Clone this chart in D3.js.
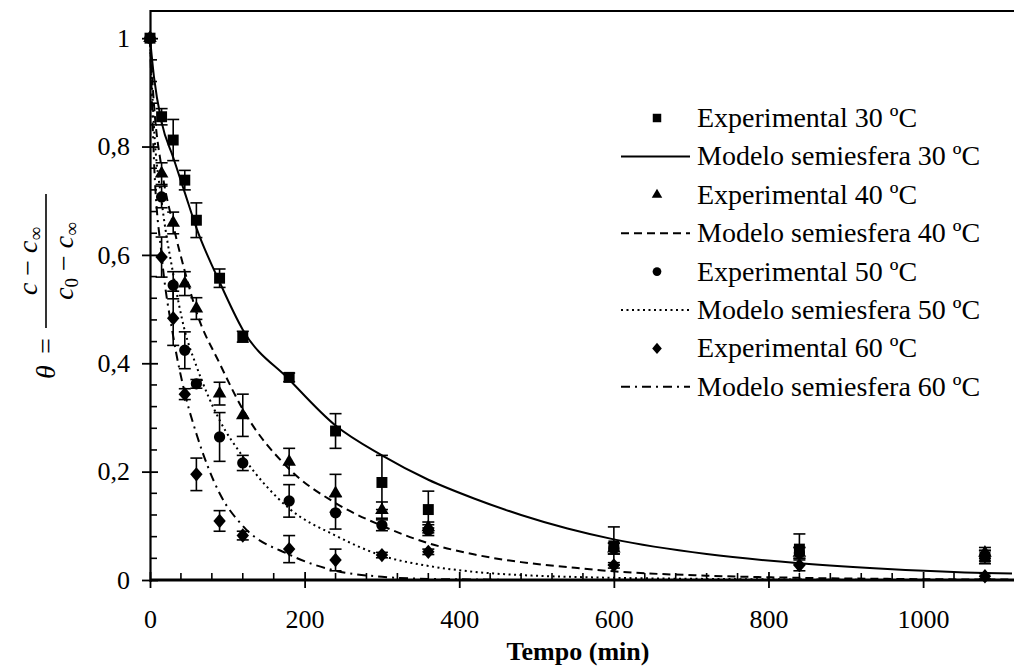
<!DOCTYPE html>
<html>
<head>
<meta charset="utf-8">
<script src="https://cdn.jsdelivr.net/npm/d3@7"></script>
<style>
  html, body { margin: 0; padding: 0; background: #fff; }
  svg { display: block; }
  text { font-family: "Liberation Serif", "DejaVu Serif", serif; fill: #000; }
</style>
</head>
<body>
<svg id="chart" width="1014" height="670"></svg>
<script>
// ---- data ----
const times = [0, 15, 30, 45, 60, 90, 120, 180, 240, 300, 360, 600, 840, 1080];
const exp30 = [1, 0.855, 0.812, 0.738, 0.664, 0.557, 0.449, 0.374, 0.275, 0.18, 0.13, 0.063, 0.057, 0.042];
const err30 = [0, 0.015, 0.038, 0.018, 0.032, 0.017, 0.01, 0.008, 0.032, 0.05, 0.034, 0.035, 0.028, 0.012];
const exp40 = [1, 0.75, 0.659, 0.547, 0.501, 0.344, 0.304, 0.218, 0.16, 0.129, 0.097, 0.058, 0.05, 0.05];
const err40 = [0, 0.02, 0.02, 0.022, 0.02, 0.021, 0.039, 0.025, 0.035, 0.015, 0.01, 0.01, 0.01, 0.01];
const exp50 = [1, 0.707, 0.544, 0.424, 0.362, 0.264, 0.216, 0.146, 0.124, 0.101, 0.092, 0.058, 0.05, 0.045];
const err50 = [0, 0.02, 0.025, 0.034, 0.008, 0.045, 0.014, 0.03, 0.03, 0.01, 0.01, 0.01, 0.01, 0.01];
const exp60 = [1, 0.596, 0.483, 0.343, 0.195, 0.109, 0.082, 0.057, 0.037, 0.046, 0.052, 0.027, 0.027, 0.007];
const err60 = [0, 0.037, 0.05, 0.01, 0.03, 0.019, 0.008, 0.025, 0.02, 0.005, 0.005, 0.005, 0.01, 0.005];

const modelTimes = [0, 5, 15, 30, 45, 60, 90, 120, 180, 240, 300, 360, 420, 480, 540, 600, 720, 840, 960, 1080, 1115];
const model30 = [1, 0.93, 0.845, 0.78, 0.715, 0.65, 0.55, 0.462, 0.37, 0.285, 0.23, 0.185, 0.15, 0.12, 0.095, 0.075, 0.048, 0.031, 0.02, 0.013, 0.012];
const model40 = [1, 0.88, 0.76, 0.655, 0.57, 0.495, 0.4, 0.315, 0.205, 0.142, 0.1, 0.068, 0.047, 0.033, 0.024, 0.016, 0.008, 0.004, 0.002, 0.001, 0.001];
const model50 = [1, 0.84, 0.7, 0.565, 0.46, 0.395, 0.295, 0.228, 0.132, 0.082, 0.045, 0.026, 0.015, 0.009, 0.006, 0.004, 0.002, 0.001, 0, 0, 0];
const model60 = [1, 0.78, 0.6, 0.45, 0.345, 0.27, 0.16, 0.1, 0.047, 0.017, 0.006, 0.002, 0.001, 0, 0, 0, 0, 0, 0, 0, 0];

const xTicks = [0, 200, 400, 600, 800, 1000];
const yTicks = [0, 0.2, 0.4, 0.6, 0.8, 1];
const yTickLabels = ["0", "0,2", "0,4", "0,6", "0,8", "1"];
const legendLabels = [
  "Experimental 30 ºC", "Modelo semiesfera 30 ºC",
  "Experimental 40 ºC", "Modelo semiesfera 40 ºC",
  "Experimental 50 ºC", "Modelo semiesfera 50 ºC",
  "Experimental 60 ºC", "Modelo semiesfera 60 ºC"
];

// ---- layout ----
const svg = d3.select("#chart");
const x = d3.scaleLinear().domain([0, 1115]).range([150, 1012]);
const y = d3.scaleLinear().domain([0, 1.052]).range([580, 10]);

// wide diamond (as in the reference)
const wideDiamond = {
  draw(ctx, size) {
    const w = Math.sqrt(size) * 0.62, h = Math.sqrt(size) * 0.72;
    ctx.moveTo(0, -h); ctx.lineTo(w, 0); ctx.lineTo(0, h); ctx.lineTo(-w, 0); ctx.closePath();
  }
};

const series = [
  { exp: exp30, err: err30, model: model30, sym: d3.symbolSquare, size: 120, dash: null },
  { exp: exp40, err: err40, model: model40, sym: d3.symbolTriangle, size: 80, dash: "8,5" },
  { exp: exp50, err: err50, model: model50, sym: d3.symbolCircle, size: 100, dash: "2,3.5" },
  { exp: exp60, err: err60, model: model60, sym: wideDiamond, size: 100, dash: "9,5,2,5" }
];

// ---- model lines ----
const line = d3.line().x(d => x(d[0])).y(d => y(d[1])).curve(d3.curveMonotoneX);
series.forEach(s => {
  svg.append("path")
    .datum(modelTimes.map((t, i) => [t, s.model[i]]))
    .attr("d", line)
    .attr("fill", "none")
    .attr("stroke", "#000")
    .attr("stroke-width", 2)
    .attr("stroke-dasharray", s.dash);
});

// ---- error bars & markers ----
series.forEach(s => {
  const g = svg.append("g");
  times.forEach((t, i) => {
    const v = s.exp[i], e = s.err[i];
    if (e > 0) {
      const cx = x(t);
      g.append("line").attr("x1", cx).attr("x2", cx).attr("y1", y(v + e)).attr("y2", y(v - e))
        .attr("stroke", "#000").attr("stroke-width", 1.6);
      [v + e, v - e].forEach(w => {
        g.append("line").attr("x1", cx - 6).attr("x2", cx + 6).attr("y1", y(w)).attr("y2", y(w))
          .attr("stroke", "#000").attr("stroke-width", 1.6);
      });
    }
  });
  g.selectAll("path.m").data(times).join("path")
    .attr("class", "m")
    .attr("transform", (t, i) => `translate(${x(t)},${y(s.exp[i])})`)
    .attr("d", d3.symbol().type(s.sym).size(s.size))
    .attr("fill", "#000");
});

// ---- axes ----
const minorX = d3.range(0, 1115, 40).filter(v => v % 200 !== 0);
const minorY = d3.range(0, 1.04, 0.04).map(v => +v.toFixed(2)).filter(v => Math.round(v * 100) % 20 !== 0);

// top frame
svg.append("line").attr("x1", 150).attr("x2", 1014).attr("y1", 11).attr("y2", 11)
  .attr("stroke", "#000").attr("stroke-width", 2);

const xAxis = svg.append("g").attr("transform", "translate(0,580)")
  .call(d3.axisBottom(x).tickValues(xTicks).tickSize(8).tickPadding(22).tickFormat(d3.format("d")));
xAxis.select(".domain").remove();
xAxis.selectAll(".tick line").attr("y1", -8).attr("y2", 8).attr("stroke-width", 1.8);
xAxis.selectAll(".tick text").attr("font-size", 26).attr("font-family", "Liberation Serif");
svg.append("g").selectAll("line").data(minorX).join("line")
  .attr("x1", d => x(d)).attr("x2", d => x(d)).attr("y1", 573).attr("y2", 580)
  .attr("stroke", "#000").attr("stroke-width", 1.6);
svg.append("line").attr("x1", 150).attr("x2", 1014).attr("y1", 580).attr("y2", 580)
  .attr("stroke", "#000").attr("stroke-width", 3);

const yAxis = svg.append("g").attr("transform", "translate(150,0)")
  .call(d3.axisLeft(y).tickValues(yTicks).tickSize(8).tickPadding(12).tickFormat((d, i) => yTickLabels[i]));
yAxis.select(".domain").remove();
yAxis.selectAll(".tick line").attr("x1", -8).attr("x2", 8).attr("stroke-width", 1.8);
yAxis.selectAll(".tick text").attr("font-size", 26).attr("font-family", "Liberation Serif");
svg.append("g").selectAll("line").data(minorY).join("line")
  .attr("x1", 150).attr("x2", 157).attr("y1", d => y(d)).attr("y2", d => y(d))
  .attr("stroke", "#000").attr("stroke-width", 1.6);
svg.append("line").attr("x1", 150.5).attr("x2", 150.5).attr("y1", 10).attr("y2", 582)
  .attr("stroke", "#000").attr("stroke-width", 2.2);

// ---- axis titles ----
svg.append("text").attr("x", 578).attr("y", 660).attr("text-anchor", "middle")
  .attr("font-size", 26).attr("font-weight", "bold").text("Tempo (min)");

const yl = svg.append("g").attr("transform", "translate(46,300) rotate(-90)");
yl.append("text").attr("x", -72).attr("y", 9).attr("font-size", 28).attr("font-style", "italic")
  .attr("text-anchor", "middle").text("θ");
yl.append("text").attr("x", -46).attr("y", 9).attr("font-size", 28)
  .attr("text-anchor", "middle").text("=");
yl.append("line").attr("x1", -28).attr("x2", 106).attr("y1", 0).attr("y2", 0)
  .attr("stroke", "#000").attr("stroke-width", 1.6);
const num = yl.append("text").attr("x", 39).attr("y", -9).attr("font-size", 28).attr("text-anchor", "middle");
num.append("tspan").attr("font-style", "italic").text("c");
num.append("tspan").text(" − ");
num.append("tspan").attr("font-style", "italic").text("c");
num.append("tspan").attr("font-size", 19).attr("dy", 5).text("∞");
const den = yl.append("text").attr("x", 39).attr("y", 27).attr("font-size", 28).attr("text-anchor", "middle");
den.append("tspan").attr("font-style", "italic").text("c");
den.append("tspan").attr("font-size", 19).attr("dy", 5).text("0");
den.append("tspan").attr("dy", -5).text(" − ");
den.append("tspan").attr("font-style", "italic").text("c");
den.append("tspan").attr("font-size", 19).attr("dy", 5).text("∞");

// ---- legend ----
const leg = svg.append("g");
legendLabels.forEach((lab, i) => {
  const ly = 118 + i * 38.4;
  const s = series[Math.floor(i / 2)];
  if (i % 2 === 0) {
    leg.append("path").attr("transform", `translate(657,${ly})`)
      .attr("d", d3.symbol().type(s.sym).size(s.size * 0.6)).attr("fill", "#000");
  } else {
    leg.append("line").attr("x1", 621).attr("x2", 690).attr("y1", ly).attr("y2", ly)
      .attr("stroke", "#000").attr("stroke-width", 2).attr("stroke-dasharray", s.dash);
  }
  leg.append("text").attr("x", 697).attr("y", ly + 9).attr("font-size", 28).text(lab);
});
</script>
</body>
</html>
